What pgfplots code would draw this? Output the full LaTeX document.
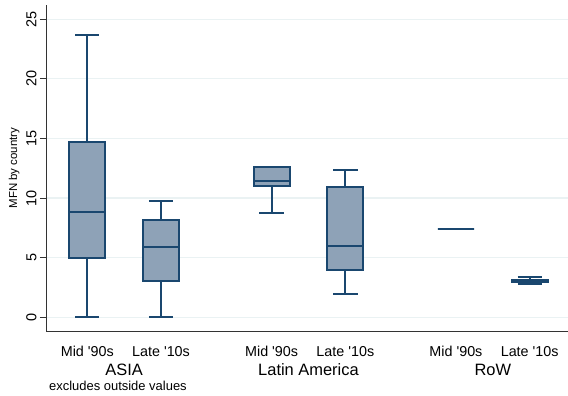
\documentclass[border=0pt]{standalone}
\usepackage{fontspec}
\setmainfont{Liberation Sans}[Ligatures=TeXOff]
\usepackage{pgfplots}
\pgfplotsset{compat=1.18}
\usepgfplotslibrary{statistics}
\definecolor{navy}{RGB}{26,71,111}
\definecolor{boxfill}{RGB}{142,162,183}
\definecolor{gridc}{RGB}{234,242,243}
\begin{document}
\begin{tikzpicture}
\useasboundingbox (-46bp,-65bp) rectangle (522bp,331bp);
\begin{axis}[
 at={(0,0)}, anchor=south west,
 scale only axis, width=522bp, height=326bp,
 xmin=-0.56, xmax=6.52, ymin=-1.15, ymax=26.2,
 axis x line*=bottom, axis y line*=left,
 axis line style={draw=black!80, line width=1bp},
 xtick={0,1,2.5,3.5,5,6},
 xticklabels={Mid '90s,Late '10s,Mid '90s,Late '10s,Mid '90s,Late '10s},
 ytick={0,5,...,25},
 ymajorgrids, grid style={gridc, line width=1.2bp},
 tick align=outside, major tick length=6bp,
 x tick style={draw=none},
 y tick style={black!80, line width=1bp},
 yticklabel style={rotate=90, anchor=south, font=\fontsize{14.5}{14.5}\selectfont},
 xticklabel style={anchor=base, yshift=-19.5bp, font=\fontsize{14.4}{14.4}\selectfont},
 ylabel={MFN by country}, ylabel style={font=\fontsize{11.5}{12}\selectfont},
 /pgf/number format/assume math mode=true,
 boxplot/draw direction=y,
 boxplot/box extend=0.49,
 boxplot/whisker extend=0.33,
 boxplot/every box/.style={fill=boxfill, draw=navy, line width=2bp},
 boxplot/every whisker/.style={draw=navy, line width=2bp},
 boxplot/every median/.style={draw=navy, line width=2bp},
 clip=false,
]
\addplot[navy, boxplot prepared={draw position=0, lower whisker=0, lower quartile=5.0, median=8.86, upper quartile=14.71, upper whisker=23.71}] coordinates {};
\addplot[navy, boxplot prepared={draw position=1, lower whisker=0, lower quartile=3.05, median=5.87, upper quartile=8.19, upper whisker=9.76}] coordinates {};
\addplot[navy, boxplot prepared={draw position=2.5, lower whisker=8.78, lower quartile=10.99, median=11.41, upper quartile=12.64, upper whisker=12.64}] coordinates {};
\addplot[navy, boxplot prepared={draw position=3.5, lower whisker=1.98, lower quartile=3.94, median=5.98, upper quartile=10.93, upper whisker=12.39}] coordinates {};
\addplot[navy, boxplot prepared={draw position=5, lower whisker=7.38, lower quartile=7.38, median=7.38, upper quartile=7.38, upper whisker=7.38}] coordinates {};
\addplot[navy, boxplot prepared={draw position=6, lower whisker=2.79, lower quartile=2.99, median=3.07, upper quartile=3.15, upper whisker=3.41}] coordinates {};
\node[anchor=base, yshift=-44bp, font=\fontsize{16.5}{16.5}\selectfont] at (axis cs:0.5,-1.15) {ASIA};
\node[anchor=base, yshift=-44bp, font=\fontsize{16.5}{16.5}\selectfont] at (axis cs:3,-1.15) {Latin America};
\node[anchor=base, yshift=-44bp, font=\fontsize{16.5}{16.5}\selectfont] at (axis cs:5.5,-1.15) {RoW};
\node[anchor=base west, inner sep=0pt, xshift=3bp, yshift=-59bp, font=\fontsize{13}{13}\selectfont] at (axis cs:-0.56,-1.15) {excludes outside values};
\end{axis}
\end{tikzpicture}
\end{document}
